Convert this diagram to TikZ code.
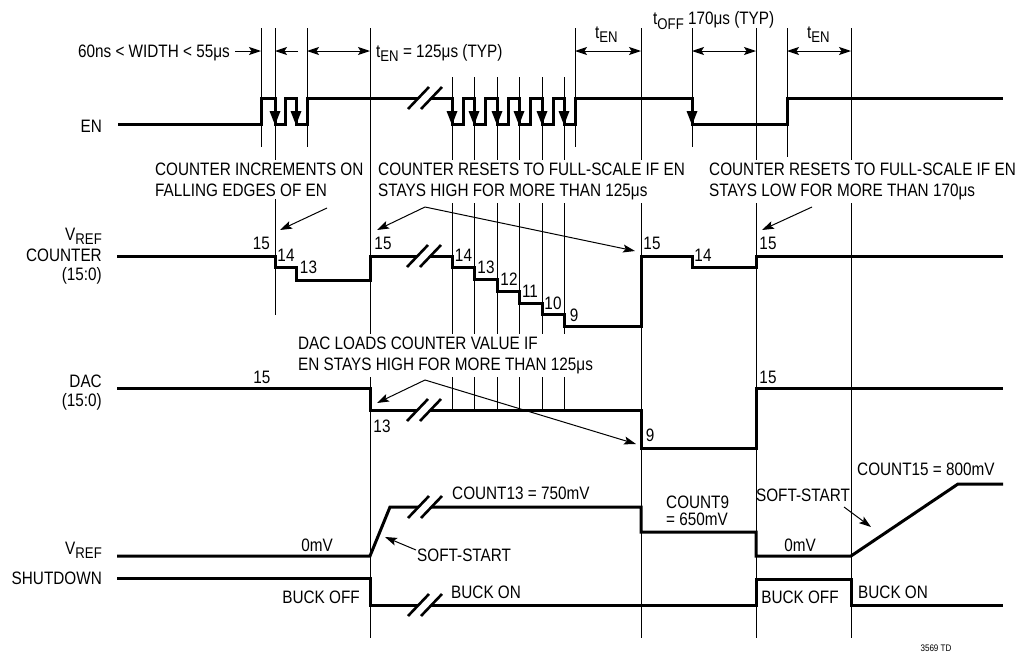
\documentclass[tikz,border=0pt]{standalone}
\usepackage{fontspec}
\setmainfont{Liberation Sans}[FakeStretch=0.85]
\usetikzlibrary{arrows.meta}
\newcommand\lsub[1]{\raisebox{-4.5pt}{\fontsize{15.5}{15.5}\selectfont #1}}
\newcommand\brkmark[2]{%
  \fill[white] (#1-17,#2+11) -- (#1+4,#2-11) -- (#1+17,#2-11) -- (#1-4,#2+11) -- cycle;
  \draw[brkline] (#1-17,#2+11) -- (#1+4,#2-11) (#1-4,#2+11) -- (#1+17,#2-11);}
\newcommand\fallarr[1]{\fill (#1-5.5,111) -- (#1,125) -- (#1+5.5,111) -- cycle;}
\tikzset{
  wave/.style={line width=3pt, line join=miter, line cap=butt},
  guide/.style={line width=1pt},
  brkline/.style={line width=2.6pt},
  arr/.style={line width=1pt, -{Stealth[length=12pt,width=8pt,inset=2.5pt]}},
  darr/.style={line width=1pt, {Stealth[length=12pt,width=8pt,inset=2.5pt]}-{Stealth[length=12pt,width=8pt,inset=2.5pt]}},
  lab/.style={inner sep=0pt, text height=12.9pt, text depth=0pt},
  blk/.style={fill=white, inner sep=3pt, align=left, anchor=north west},
  every node/.style={font=\fontsize{18}{21}\selectfont, text=black}
}
\begin{document}
\begin{tikzpicture}[x=1pt,y=-1pt]
\useasboundingbox (0,0) rectangle (1021,654);
% guide lines
\foreach \gx/\ya/\yb in {261/28/147, 275/28/315, 307/28/147, 370/28/638,
   452/77/410, 474/77/410, 497/77/410, 519/77/410, 542/77/410, 564/77/410,
   575/28/147, 641/28/638, 692/28/147, 756/28/638, 787/28/157, 851/28/638}
  {\draw[guide] (\gx,\ya) -- (\gx,\yb);}

% text blocks with white background
\node[blk] (tInc) at (152,159.5) {COUNTER INCREMENTS ON\\FALLING EDGES OF EN};
\node[blk] (tResH) at (375,159.5) {COUNTER RESETS TO FULL-SCALE IF EN\\STAYS HIGH FOR MORE THAN 125μs};
\node[blk] (tResL) at (706,159.5) {COUNTER RESETS TO FULL-SCALE IF EN\\STAYS LOW FOR MORE THAN 170μs};
\node[blk] (tDac) at (295,333.5) {DAC LOADS COUNTER VALUE IF\\EN STAYS HIGH FOR MORE THAN 125μs};

% left labels
\node[lab, anchor=east] (lEN) at (102,126) {EN};
\node[lab, anchor=east] (lVc) at (102,234) {V\lsub{REF}};
\node[lab, anchor=east] (lCnt) at (102,255) {COUNTER};
\node[lab, anchor=east] (lCr) at (102,274) {(15:0)};
\node[lab, anchor=east] (lDac) at (102,381) {DAC};
\node[lab, anchor=east] (lDr) at (102,400) {(15:0)};
\node[lab, anchor=east] (lVr) at (102,548) {V\lsub{REF}};
\node[lab, anchor=east] (lSd) at (102,578.5) {SHUTDOWN};

% top timing labels
\node[lab, anchor=east] (tW) at (230,51) {60ns < WIDTH < 55μs};
\node[lab, anchor=west] (tEN1) at (376,51) {t\lsub{EN} = 125μs (TYP)};
\node[lab, anchor=west] (tEN2) at (595,32) {t\lsub{EN}};
\node[lab, anchor=west] (tOFF) at (653,18.5) {t\lsub{OFF} 170μs (TYP)};
\node[lab, anchor=west] (tEN3) at (807,32) {t\lsub{EN}};

\coordinate (wA) at (235,51); \coordinate (wB) at (261,51);
\coordinate (wC) at (298,51); \coordinate (wD) at (275,51);
\draw[arr] (wA) -- (wB);
\draw[arr] (wC) -- (wD);
\coordinate (d1a) at (307,51); \coordinate (d1b) at (370,51);
\coordinate (d2a) at (575,51); \coordinate (d2b) at (641,51);
\coordinate (d3a) at (692,51); \coordinate (d3b) at (756,51);
\coordinate (d4a) at (787,51); \coordinate (d4b) at (851,51);
\draw[darr] (d1a) -- (d1b);
\draw[darr] (d2a) -- (d2b);
\draw[darr] (d3a) -- (d3b);
\draw[darr] (d4a) -- (d4b);

% EN waveform
\draw[wave] (118,124) -- (261,124) -- (261,98) -- (275,98) -- (275,124) -- (285,124) -- (285,98)
  -- (296,98) -- (296,124) -- (307,124) -- (307,98) -- (452,98) -- (452,124) -- (463,124) -- (463,98)
  -- (474,98) -- (474,124) -- (485,124) -- (485,98) -- (497,98) -- (497,124) -- (508,124) -- (508,98)
  -- (519,98) -- (519,124) -- (530,124) -- (530,98) -- (542,98) -- (542,124) -- (553,124) -- (553,98)
  -- (564,98) -- (564,124) -- (575,124) -- (575,98) -- (692,98) -- (692,124) -- (787,124) -- (787,98)
  -- (1003,98);
\foreach \fx in {275,296,452,474,497,519,542,564,692} {\fallarr{\fx}}
\brkmark{425}{98}

% counter waveform
\draw[wave] (117,256) -- (275,256) -- (275,267) -- (296,267) -- (296,280) -- (370,280) -- (370,256)
  -- (452,256) -- (452,267) -- (474,267) -- (474,279) -- (497,279) -- (497,291) -- (519,291)
  -- (519,303) -- (542,303) -- (542,314) -- (564,314) -- (564,326) -- (641,326) -- (641,256)
  -- (692,256) -- (692,267) -- (756,267) -- (756,256) -- (1003,256);
\brkmark{424}{256}
\node[lab] (c15a) at (261.5,243) {15};
\node[lab] (c14a) at (286,255) {14};
\node[lab] (c13a) at (308.5,267) {13};
\node[lab] (c15b) at (383,243) {15};
\node[lab] (c14b) at (463.5,255) {14};
\node[lab] (c13b) at (486,267) {13};
\node[lab] (c12) at (509,279) {12};
\node[lab] (c11) at (530,291) {11};
\node[lab] (c10) at (553,303) {10};
\node[lab] (c9) at (574,315) {9};
\node[lab] (c15c) at (652,243) {15};
\node[lab] (c14c) at (703,255) {14};
\node[lab] (c15d) at (768,243) {15};

% DAC waveform
\draw[wave] (117,388) -- (370,388) -- (370,410) -- (641,410) -- (641,448) -- (756,448) -- (756,388) -- (1003,388);
\brkmark{424}{410}
\node[lab] (d15a) at (262,377) {15};
\node[lab] (d13) at (382,426) {13};
\node[lab] (d9) at (650,435) {9};
\node[lab] (d15b) at (768,377) {15};

% VREF waveform
\draw[wave] (117,556) -- (370,556) -- (390,507) -- (641,507) -- (641,532) -- (756,532) -- (756,556)
  -- (851,556) -- (958,484) -- (1003,484);
\brkmark{425}{507}

% SHUTDOWN waveform
\draw[wave] (117,578) -- (370,578) -- (370,605) -- (756,605) -- (756,579) -- (851,579) -- (851,605) -- (1003,605);
\brkmark{425}{605}

% bottom labels
\node[lab] (v0a) at (317,545) {0mV};
\node[lab, anchor=west] (ss1) at (417,555) {SOFT-START};
\node[lab, anchor=west] (c13v) at (452,493) {COUNT13 = 750mV};
\node[lab, anchor=west] (bon1) at (451,592) {BUCK ON};
\node[lab, anchor=east] (boff1) at (360,597) {BUCK OFF};
\node[inner sep=0pt, align=left, anchor=north west, font=\fontsize{18}{17}\selectfont] (c9v) at (666,496) {COUNT9\\= 650mV};
\node[lab] (ss2) at (803,495) {SOFT-START};
\node[lab] (v0b) at (800,545) {0mV};
\node[lab] (boff2) at (800,597) {BUCK OFF};
\node[lab, anchor=west] (bon2) at (858,592) {BUCK ON};
\node[lab, anchor=west] (c15v) at (857,469) {COUNT15 = 800mV};
\node[inner sep=0pt, font=\fontsize{9.5}{10}\selectfont] (ref) at (936,648) {3569 TD};

% annotation arrows
\coordinate (aInc1) at (327,208); \coordinate (aInc2) at (280,230);
\draw[arr] (aInc1) -- (aInc2);
\coordinate (aRH) at (425,207); \coordinate (aRH1) at (377,230); \coordinate (aRH2) at (635,251);
\draw[arr] (aRH) -- (aRH1);
\draw[arr] (aRH) -- (aRH2);
\coordinate (aD) at (425,380); \coordinate (aD1) at (377,403); \coordinate (aD2) at (636,444);
\draw[arr] (aD) -- (aD1);
\draw[arr] (aD) -- (aD2);
\coordinate (aRL1) at (812,207); \coordinate (aRL2) at (762,230);
\draw[arr] (aRL1) -- (aRL2);
\coordinate (aS1) at (416,550); \coordinate (aS1t) at (385,537);
\draw[arr] (aS1) -- (aS1t);
\coordinate (aS2) at (844,507); \coordinate (aS2t) at (871,527);
\draw[arr] (aS2) -- (aS2t);
\end{tikzpicture}
\end{document}
